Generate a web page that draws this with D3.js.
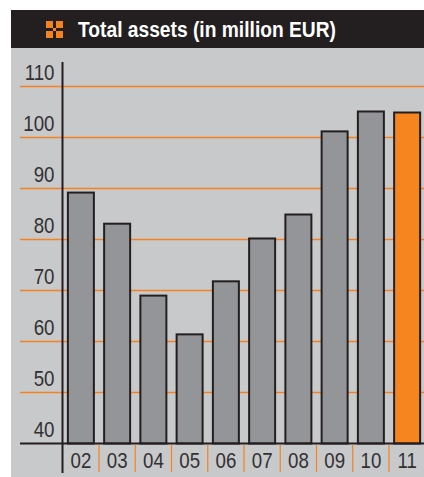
<!DOCTYPE html>
<html><head><meta charset="utf-8">
<script src="https://cdn.jsdelivr.net/npm/d3@7"></script>
<style>html,body{margin:0;padding:0;background:#fff}svg{display:block}</style>
</head><body><div id="c"></div>
<script>
const title = "Total assets (in million EUR)";
const years = ["02","03","04","05","06","07","08","09","10","11"];
const assets = [89.2,83.1,69,61.4,71.8,80.2,84.9,101.2,105.1,104.9];
const yTicks = [40,50,60,70,80,90,100,110];
const highlightYear = "11";

const W=424,H=477;
const svg=d3.select("#c").append("svg").attr("width",W).attr("height",H);
svg.append("rect").attr("x",11).attr("y",10).attr("width",W-11).attr("height",H-10).attr("fill","#c8c9cb");
svg.append("rect").attr("x",11).attr("y",10).attr("width",W-11).attr("height",38).attr("fill","#231f20");

const fontFam="'Liberation Sans',Arial,sans-serif";
// squeeze text horizontally to imitate the condensed typeface
function condense(sel,k){
  sel.each(function(){
    const t=d3.select(this);
    t.attr("textLength",this.getComputedTextLength()*k).attr("lengthAdjust","spacingAndGlyphs");
  });
}

// title icon
const ic=svg.append("g").attr("transform","translate(46,21)").attr("fill","#f58220");
[[0,0],[10,0],[0,10],[10,10]].forEach(p=>ic.append("rect").attr("x",p[0]).attr("y",p[1]).attr("width",7).attr("height",7));
ic.append("rect").attr("x",7).attr("y",7).attr("width",3).attr("height",3);
svg.append("text").attr("x",78).attr("y",37).attr("fill","#fff")
  .attr("font-family",fontFam).attr("font-weight","bold").attr("font-size",22).text(title)
  .call(s=>s.attr("textLength",258).attr("lengthAdjust","spacingAndGlyphs"));

const y=d3.scaleLinear().domain([40,110]).range([443.5,86.5]);
const x=d3.scaleBand().domain(years).range([62.75,425.25]).paddingInner(0.25).paddingOuter(0.125);

// gridlines
svg.append("g").selectAll("line").data(yTicks.filter(d=>d>40)).join("line")
  .attr("x1",20).attr("x2",424).attr("y1",d=>y(d)).attr("y2",d=>y(d))
  .attr("stroke","#f58220").attr("stroke-width",1.5);

// bars
const bw=26;
svg.append("g").selectAll("rect").data(years).join("rect")
  .attr("x",d=>x(d)+x.bandwidth()/2-bw/2)
  .attr("width",bw)
  .attr("y",(d,i)=>y(assets[i]))
  .attr("height",(d,i)=>y(40)-y(assets[i]))
  .attr("fill",d=>d===highlightYear?"#f7851f":"#939598")
  .attr("stroke","#231f20").attr("stroke-width",2);

// y axis
const gy=svg.append("g").attr("transform","translate(54.5,0)")
  .call(d3.axisLeft(y).tickValues(yTicks).tickSize(0).tickPadding(0));
gy.select(".domain").remove();
gy.selectAll("text").attr("dy",0).attr("y",-7).attr("x",0).attr("font-family",fontFam).attr("font-size",22).attr("fill","#333132").call(condense,0.85);

// x axis
const gx=svg.append("g").attr("transform","translate(0,443)")
  .call(d3.axisBottom(x).tickSize(0).tickPadding(0));
gx.select(".domain").remove();
gx.selectAll("text").attr("dy",0).attr("y",25).attr("font-family",fontFam).attr("font-size",22).attr("fill","#333132").call(condense,0.85);

// separators between years
svg.append("g").selectAll("line").data(years.slice(1)).join("line")
  .attr("x1",d=>x(d)-x.step()*x.paddingInner()/2).attr("x2",d=>x(d)-x.step()*x.paddingInner()/2)
  .attr("y1",445).attr("y2",472).attr("stroke","#f58220").attr("stroke-width",1.2);

// axis lines
svg.append("line").attr("x1",20).attr("x2",424).attr("y1",443.5).attr("y2",443.5).attr("stroke","#231f20").attr("stroke-width",2);
svg.append("line").attr("x1",62.5).attr("x2",62.5).attr("y1",62).attr("y2",473).attr("stroke","#231f20").attr("stroke-width",2);
</script></body></html>
